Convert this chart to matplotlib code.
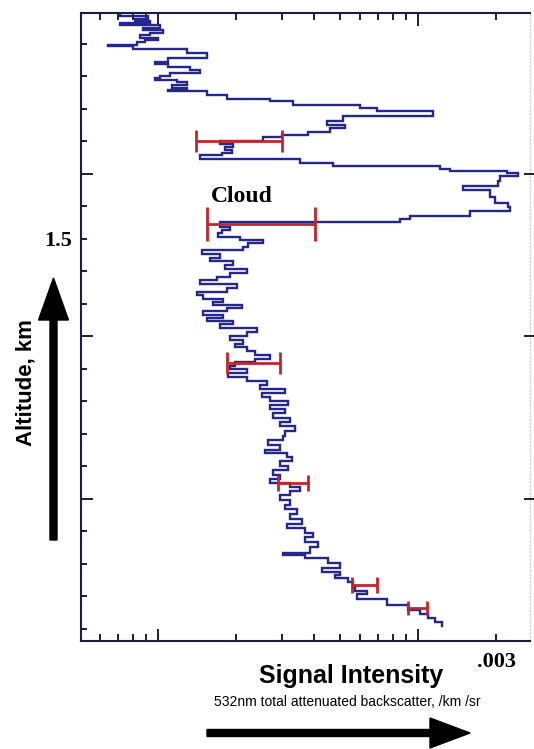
import numpy as np
import matplotlib
matplotlib.use("Agg")
import matplotlib.pyplot as plt
from matplotlib.patches import FancyArrow
from matplotlib.transforms import IdentityTransform

# ---------------- data ----------------
# altitude (km) of each step start, top to bottom
altitude_km = [
    2.195, 2.186, 2.177, 2.171, 2.165, 2.158, 2.149, 2.143, 2.134, 2.128,
    2.118, 2.112, 2.106, 2.097, 2.094, 2.085, 2.072, 2.057, 2.045, 2.038,
    2.029, 2.020, 2.011, 2.002, 1.995, 1.989, 1.983, 1.974, 1.965, 1.958,
    1.955, 1.943, 1.931, 1.925, 1.912, 1.903, 1.894, 1.878, 1.863, 1.851,
    1.842, 1.829, 1.820, 1.814, 1.802, 1.792, 1.783, 1.774, 1.765, 1.758,
    1.746, 1.734, 1.725, 1.715, 1.709, 1.703, 1.694, 1.678, 1.663, 1.651,
    1.629, 1.611, 1.598, 1.586, 1.571, 1.562, 1.552, 1.537, 1.528, 1.518,
    1.506, 1.497, 1.488, 1.475, 1.466, 1.454, 1.442, 1.432, 1.420, 1.408,
    1.395, 1.383, 1.374, 1.362, 1.349, 1.337, 1.328, 1.315, 1.306, 1.297,
    1.288, 1.278, 1.266, 1.257, 1.248, 1.238, 1.226, 1.214, 1.202, 1.189,
    1.177, 1.168, 1.155, 1.143, 1.131, 1.122, 1.109, 1.100, 1.088, 1.075,
    1.063, 1.051, 1.038, 1.026, 1.014, 1.002, 0.989, 0.977, 0.965, 0.949,
    0.937, 0.925, 0.909, 0.894, 0.882, 0.866, 0.851, 0.842, 0.829, 0.817,
    0.802, 0.789, 0.774, 0.762, 0.749, 0.737, 0.725, 0.712, 0.697, 0.682,
    0.669, 0.654, 0.638, 0.623, 0.611, 0.595, 0.583, 0.568, 0.552, 0.534,
    0.528, 0.518, 0.503, 0.488, 0.475, 0.466, 0.457, 0.445, 0.429, 0.417,
    0.408, 0.392, 0.374, 0.358, 0.346, 0.334, 0.322, 0.309,
]
# total attenuated backscatter, in units of 1e-4 /km/sr
signal_e4 = [
    0.714, 0.915, 0.816, 0.932, 0.714, 1.018, 0.876, 1.045, 0.932, 0.853,
    1.000, 0.891, 0.830, 0.642, 0.801, 1.293, 1.543, 1.093, 0.974, 1.093,
    1.328, 1.451, 1.112, 1.018, 0.974, 1.183, 1.293, 1.132, 1.293, 1.093,
    1.543, 1.842, 2.697, 3.306, 5.984, 6.956, 11.42, 5.147, 4.467, 5.239,
    4.587, 3.776, 2.999, 2.534, 1.731, 1.943, 1.810, 1.926, 1.763, 1.451,
    3.517, 4.711, 12.15, 13.28, 21.99, 24.25, 20.67, 20.31, 14.90, 18.92,
    19.78, 22.19, 22.59, 15.85, 9.316, 8.529, 1.731, 1.892, 1.763, 1.701,
    2.067, 2.534, 2.219, 2.123, 1.476, 1.731, 1.585, 1.943, 1.810, 2.199,
    1.892, 1.686, 1.451, 2.013, 1.842, 1.413, 1.490, 1.778, 1.627, 2.104,
    1.842, 1.490, 1.778, 1.543, 1.943, 1.731, 2.403, 2.199, 1.892, 2.123,
    1.978, 2.199, 2.361, 2.697, 2.361, 1.978, 1.892, 2.199, 1.859, 2.199,
    2.626, 2.467, 3.079, 2.512, 2.697, 3.162, 2.697, 3.079, 2.769, 3.219,
    2.946, 3.365, 3.079, 3.025, 2.649, 2.946, 2.580, 3.135, 3.277, 2.946,
    3.162, 2.769, 2.946, 2.697, 3.219, 3.517, 3.219, 2.946, 3.219, 3.079,
    3.426, 3.219, 3.580, 3.135, 3.677, 3.947, 3.677, 4.125, 3.843, 3.025,
    3.677, 4.507, 5.012, 4.274, 5.012, 4.795, 5.381, 5.623, 5.724, 6.366,
    5.827, 7.600, 9.151, 10.18, 10.93, 11.63, 12.37, 12.37,
]
# error bars: altitude (km), lower / upper signal (1e-4 /km/sr)
err_alt = [1.800, 1.546, 1.118, 0.749, 0.435, 0.365]
err_lo = [1.40, 1.543, 1.84, 2.89, 5.57, 9.15]
err_hi = [3.00, 4.02, 2.95, 3.78, 6.96, 10.8]

x_minor_ticks = [6e-5, 7e-5, 8e-5, 9e-5, 2e-4, 3e-4, 4e-4, 5e-4, 6e-4,
                 7e-4, 8e-4, 9e-4, 2e-3]
x_minor_labels = ["", "", "", "", "", "", "", "", "", "", "", "", ".003"]
y_major_ticks = [0.7, 1.2, 1.7]
y_minor_ticks = [0.3, 0.4, 0.5, 0.6, 0.8, 0.9, 1.0, 1.1, 1.3, 1.4, 1.5, 1.6,
                 1.8, 1.9, 2.0, 2.1]
y_minor_labels = ["", "", "", "", "", "", "", "", "", "", "1.5", "", "", "", "", ""]

# ---------------- figure ----------------
W, H = 534, 749
fig = plt.figure(figsize=(W / 100, H / 100), dpi=100)
fig.patch.set_facecolor("white")


def fx(px):
    return px / W


def fy(py):
    return 1 - py / H


ax = fig.add_axes([fx(81), fy(641), (530 - 81) / W, (641 - 13) / H])

spine_col = "#1c1c44"
sig = np.array(signal_e4) * 1e-4
ax.plot(sig, altitude_km, drawstyle="steps-pre", color="#262690", lw=1.7,
        zorder=3, solid_joinstyle="miter")

caps = [8, 12, 8, 6, 6, 5]
for a, lo, hi, cs in zip(err_alt, err_lo, err_hi, caps):
    c = np.sqrt(lo * hi) * 1e-4
    ax.errorbar(c, a, xerr=[[c - lo * 1e-4], [hi * 1e-4 - c]], fmt="none",
                ecolor="#c4242c", elinewidth=2.0, capsize=cs, capthick=2.0,
                zorder=4)

ax.set_xscale("log")
ax.set_xlim(5.06e-5, 2.70e-3)
ax.set_ylim(0.263, 2.195)

serif = "Liberation Serif"
sans = "Liberation Sans"

ax.set_xticks([1e-4, 1e-3], labels=["", ""])
ax.set_xticks(x_minor_ticks, labels=x_minor_labels, minor=True,
              fontsize=16, fontweight="bold", family=serif)
ax.set_yticks(y_major_ticks, labels=["", "", ""])
ax.set_yticks(y_minor_ticks, labels=y_minor_labels, minor=True,
              fontsize=16, fontweight="bold", family=serif)

ax.tick_params(axis="x", which="both", direction="in", top=True, bottom=True,
               color=spine_col, width=1.4)
ax.tick_params(axis="x", which="major", length=9)
ax.tick_params(axis="x", which="minor", length=5, pad=8)
ax.tick_params(axis="y", which="both", direction="in", left=True, right=False,
               color=spine_col, width=1.4)
ax.tick_params(axis="y", which="major", length=8.5)
ax.tick_params(axis="y", which="minor", length=4.3, pad=6.5)

for s in ["left", "top", "bottom"]:
    ax.spines[s].set_color(spine_col)
    ax.spines[s].set_linewidth(1.5)
ax.spines["right"].set_color("#d4d4d4")
ax.spines["right"].set_linestyle(":")
ax.spines["right"].set_linewidth(1.0)

# right-side major ticks
ax2 = ax.twinx()
ax2.set_ylim(ax.get_ylim())
ax2.set_yticks(y_major_ticks, labels=["", "", ""])
ax2.tick_params(axis="y", direction="inout", length=8, width=1.4,
                color=spine_col)
for s in ax2.spines.values():
    s.set_visible(False)

# annotation
ax.text(2.1e-4, 1.632, "Cloud", ha="center", va="center", fontsize=17,
        fontweight="bold", family=serif, color="black", zorder=5)

# labels
fig.text(fx(26), fy(383), "Altitude, km", rotation=90, ha="center",
         va="center", fontsize=16, fontweight="bold", family=sans)
fig.text(fx(351), fy(683), "Signal Intensity", ha="center", va="baseline",
         fontsize=18, fontweight="bold", family=sans)
fig.text(fx(347), fy(706), "532nm total attenuated backscatter, /km /sr",
         ha="center", va="baseline", fontsize=10, family=sans)

# arrows (display pixels)
up = FancyArrow(53.5, H - 540, 0, 540 - 278, width=7, head_width=30,
                head_length=42, length_includes_head=True, color="black",
                transform=IdentityTransform())
right = FancyArrow(207, H - 733, 470 - 207, 0, width=7, head_width=30,
                   head_length=40, length_includes_head=True, color="black",
                   transform=IdentityTransform())
fig.add_artist(up)
fig.add_artist(right)

fig.savefig("out.png", dpi=100)
